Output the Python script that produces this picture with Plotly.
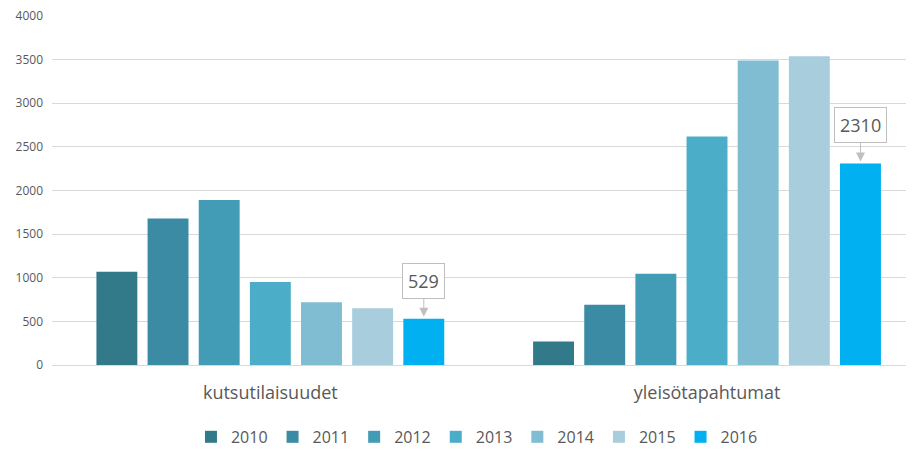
import plotly.graph_objects as go

categories = ["kutsutilaisuudet", "yleisötapahtumat"]
years = ["2010", "2011", "2012", "2013", "2014", "2015", "2016"]
values_2010 = [1070, 270]
values_2011 = [1680, 690]
values_2012 = [1890, 1045]
values_2013 = [950, 2620]
values_2014 = [720, 3490]
values_2015 = [650, 3540]
values_2016 = [529, 2310]
series = [values_2010, values_2011, values_2012, values_2013, values_2014, values_2015, values_2016]
colors = ["#327A8A", "#3A8BA3", "#439CB6", "#4BADC8", "#80BCD2", "#A8CDDD", "#00B0F0"]

FONT = "Open Sans, Noto Sans, sans-serif"
GRAY = "#595959"
bargap = 0.18

fig = go.Figure()
for yr, vals, col in zip(years, series, colors):
    fig.add_trace(go.Bar(name=yr, x=categories, y=vals, marker_color=col,
                         marker_line_width=0))

# callouts on the 2016 bars
n = len(years)
offset = (1 - bargap) / n * (n - 1 - (n - 1) / 2)
for i, v in enumerate(values_2016):
    fig.add_annotation(x=i + offset, y=v, xref="x", yref="y", text=str(v),
                       showarrow=True, ax=0, ay=-38, arrowhead=2, arrowsize=1.8,
                       arrowwidth=1, arrowcolor="#BFBFBF", standoff=2,
                       bordercolor="#BFBFBF", borderwidth=1, borderpad=5,
                       bgcolor="white", font=dict(family=FONT, size=18, color=GRAY))

fig.update_layout(
    width=914, height=450,
    margin=dict(l=44, r=8, t=8, b=93, autoexpand=False),
    plot_bgcolor="white", paper_bgcolor="white",
    barmode="group", bargap=bargap, bargroupgap=0.2,
    font=dict(family=FONT, color=GRAY),
    showlegend=True,
    legend=dict(orientation="h", x=0.493, xanchor="center", y=-0.206, yanchor="middle",
                font=dict(size=16, color=GRAY), itemwidth=30, traceorder="normal"),
    xaxis=dict(range=[-0.5, 1.474], showgrid=False, showline=False, ticks="",
               tickfont=dict(size=18, color=GRAY), ticklabelstandoff=15),
    yaxis=dict(range=[0, 4000], dtick=500, showgrid=True, gridcolor="#D9D9D9",
               gridwidth=1, zeroline=True, zerolinecolor="#D9D9D9", zerolinewidth=1,
               showline=False, ticks="", tickfont=dict(size=12, color=GRAY),
               ticklabelstandoff=8, ticklabeloverflow="allow"),
)

fig.write_html("out.html")
